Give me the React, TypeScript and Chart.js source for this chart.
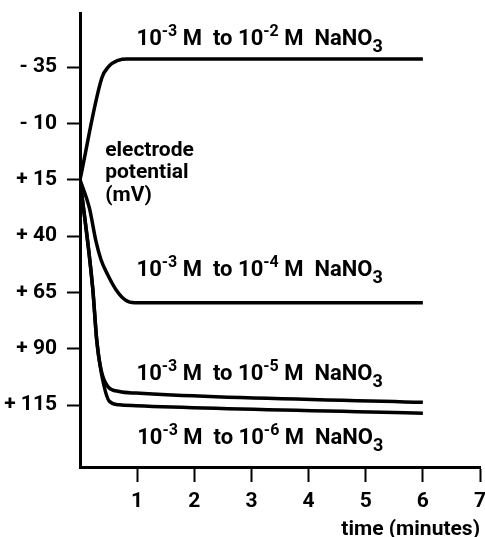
import React, { useEffect, useRef } from 'react';
import { Chart, registerables } from 'chart.js';

Chart.register(...registerables);

// time (minutes) / electrode potential (mV) for each transfer
const time2 = [0, 0.38, 0.5, 0.67, 0.82, 6];
const mv2 = [15, -30, -35.2, -38, -38.6, -38.6];
const time4 = [0, 0.163, 0.28, 0.368, 0.485, 0.63, 0.79, 0.96, 6];
const mv4 = [15, 27.4, 42.4, 50.5, 57.2, 63.8, 68.3, 69.6, 69.6];
const time5 = [0, 0.222, 0.292, 0.368, 0.485, 0.688, 0.98, 6];
const mv5 = [15, 63, 86, 99.3, 106.7, 109, 109.7, 113.8];
const time6 = [0, 0.222, 0.292, 0.368, 0.513, 0.688, 0.98, 6];
const mv6 = [15, 63, 86, 100, 113.3, 114.9, 115.3, 118.6];

const yTicks = [-35, -10, 15, 40, 65, 90, 115];
const xTicks = [1, 2, 3, 4, 5, 6, 7];

// curve labels: exponent of the final concentration, anchor (time, mV)
const labelExp = ['-2', '-4', '-5', '-6'];
const labelTime = [0.99, 0.99, 0.99, 1.0];
const labelMv = [-44.6, 57.9, 103.8, 132.2];

const axisLabelLines = ['electrode', 'potential', '(mV)'];
const axisLabelTime = 0.44;
const axisLabelMv = 4.3;

const FAMILY = 'Roboto, "Liberation Sans", Arial, sans-serif';
const MAIN = `bold 22px ${FAMILY}`;
const SUP = `bold 16px ${FAMILY}`;
const SUB = `bold 18px ${FAMILY}`;

const toPts = (xs: number[], ys: number[]) => xs.map((x, i) => ({ x, y: ys[i] }));

const labelsPlugin = {
  id: 'curveLabels',
  afterDatasetsDraw(chart: any) {
    const { ctx } = chart;
    const xs = chart.scales.x;
    const ys = chart.scales.y;
    ctx.save();
    ctx.fillStyle = '#000';
    ctx.textAlign = 'left';
    ctx.textBaseline = 'alphabetic';
    labelExp.forEach((exp, i) => {
      let px = xs.getPixelForValue(labelTime[i]);
      const py = ys.getPixelForValue(labelMv[i]);
      const segs = [
        { t: '10', f: MAIN, dy: 0 },
        { t: '-3', f: SUP, dy: -9 },
        { t: ' M  to ', f: MAIN, dy: 0 },
        { t: '10', f: MAIN, dy: 0 },
        { t: exp, f: SUP, dy: -9 },
        { t: ' M  NaNO', f: MAIN, dy: 0 },
        { t: '3', f: SUB, dy: 7 },
      ];
      for (const s of segs) {
        ctx.font = s.f;
        ctx.fillText(s.t, px, py + s.dy);
        px += ctx.measureText(s.t).width;
      }
    });
    ctx.font = `bold 21px ${FAMILY}`;
    const ax = xs.getPixelForValue(axisLabelTime);
    const ay = ys.getPixelForValue(axisLabelMv);
    axisLabelLines.forEach((line, i) => {
      ctx.fillText(line, ax, ay + i * 22.8);
    });
    ctx.restore();
  },
};

export default function App() {
  const ref = useRef<HTMLCanvasElement | null>(null);
  useEffect(() => {
    document.body.style.margin = '0';
    const canvas = ref.current;
    if (!canvas) return;
    const line = (data: any) => ({
      data,
      borderColor: '#000',
      backgroundColor: '#000',
      borderWidth: 3.5,
      pointRadius: 0,
      fill: false,
      cubicInterpolationMode: 'monotone' as const,
    });
    const chart = new Chart(canvas, {
      type: 'line',
      data: {
        datasets: [
          line(toPts(time2, mv2)),
          line(toPts(time4, mv4)),
          line(toPts(time5, mv5)),
          line(toPts(time6, mv6)),
        ],
      },
      options: {
        animation: false,
        responsive: false,
        devicePixelRatio: 1,
        layout: { padding: { top: 13, right: 5, left: 0, bottom: 0 } },
        plugins: { legend: { display: false }, tooltip: { enabled: false } },
        scales: {
          x: {
            type: 'linear',
            min: 0,
            max: 7,
            afterBuildTicks: (s: any) => {
              s.ticks = xTicks.map((v) => ({ value: v }));
            },
            afterFit: (s: any) => {
              s.height = 70;
              s.paddingLeft = 0;
              s.paddingRight = 0;
            },
            grid: {
              drawOnChartArea: false,
              drawTicks: true,
              tickLength: 15,
              tickWidth: 2,
              tickColor: '#000',
            },
            border: { display: true, color: '#000', width: 3 },
            ticks: {
              color: '#000',
              padding: 7,
              maxRotation: 0,
              font: { family: FAMILY, size: 21, weight: 'bold' },
            },
            title: {
              display: true,
              text: 'time (minutes)',
              align: 'end',
              color: '#000',
              padding: { top: 0, bottom: -3 },
              font: { family: FAMILY, size: 21, weight: 'bold', lineHeight: 1.0 },
            },
          },
          y: {
            type: 'linear',
            reverse: true,
            min: -59,
            max: 142.5,
            afterBuildTicks: (s: any) => {
              s.ticks = yTicks.map((v) => ({ value: v }));
            },
            afterFit: (s: any) => {
              s.width = 80;
              s.paddingTop = 0;
              s.paddingBottom = 0;
            },
            grid: {
              drawOnChartArea: false,
              drawTicks: true,
              tickLength: 13,
              tickWidth: 2,
              tickColor: '#000',
            },
            border: { display: true, color: '#000', width: 3 },
            ticks: {
              color: '#000',
              padding: 10,
              font: { family: FAMILY, size: 21, weight: 'bold' },
              callback: (v: any) => (v < 0 ? `- ${Math.abs(v)}` : `+ ${v}`),
            },
          },
        },
      },
      plugins: [labelsPlugin],
    });
    return () => chart.destroy();
  }, []);
  return (
    <div style={{ width: 485, height: 537 }}>
      <canvas ref={ref} width={485} height={537} style={{ display: 'block' }} />
    </div>
  );
}
